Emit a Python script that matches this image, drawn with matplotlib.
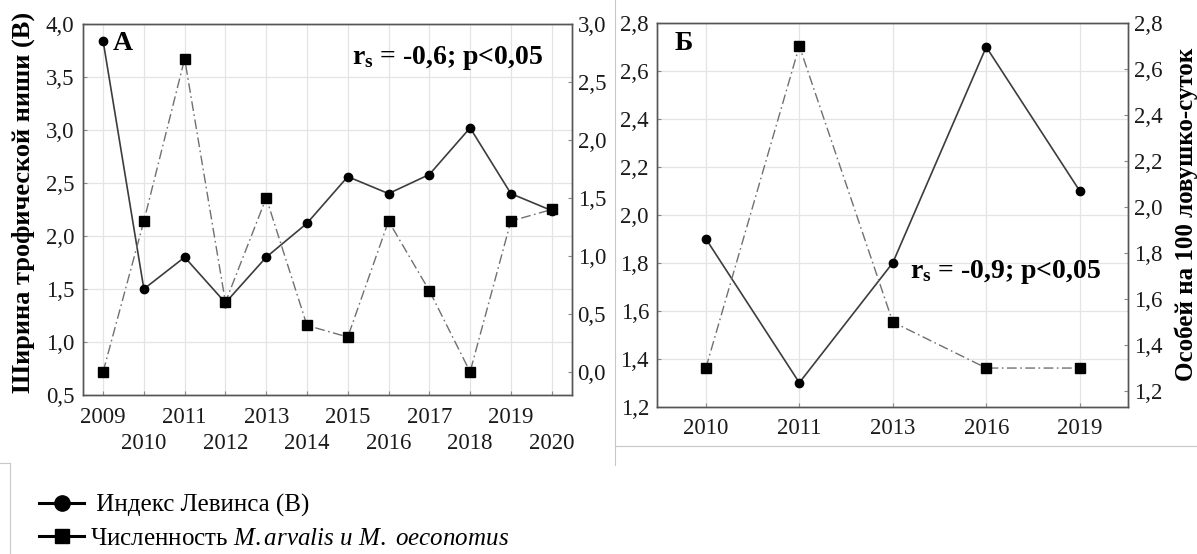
import matplotlib.pyplot as plt
from matplotlib.lines import Line2D

plt.rcParams['font.family'] = ['Liberation Serif', 'DejaVu Serif']
plt.rcParams['mathtext.fontset'] = 'custom'
plt.rcParams['mathtext.rm'] = 'Liberation Serif'
plt.rcParams['mathtext.it'] = 'Liberation Serif:italic'
plt.rcParams['mathtext.bf'] = 'Liberation Serif:bold'

# Панель А: 2009-2020
years_a = [2009, 2010, 2011, 2012, 2013, 2014, 2015, 2016, 2017, 2018, 2019, 2020]
levins_a = [3.84, 1.50, 1.80, 1.37, 1.80, 2.12, 2.56, 2.40, 2.58, 3.02, 2.40, 2.24]
abund_a = [0.0, 1.3, 2.7, 0.6, 1.5, 0.4, 0.3, 1.3, 0.7, 0.0, 1.3, 1.4]
yticks_a_left = [0.5, 1.0, 1.5, 2.0, 2.5, 3.0, 3.5, 4.0]
yticks_a_right = [0.0, 0.5, 1.0, 1.5, 2.0, 2.5, 3.0]

# Панель Б
years_b = ['2010', '2011', '2013', '2016', '2019']
levins_b = [1.9, 1.3, 1.8, 2.7, 2.1]
abund_b = [1.3, 2.7, 1.5, 1.3, 1.3]
yticks_b = [1.2, 1.4, 1.6, 1.8, 2.0, 2.2, 2.4, 2.6, 2.8]

line_kw = dict(color='#3c3c3c', lw=1.2, marker='o', ms=6, mfc='black', mec='black')
dash_kw = dict(color='#707070', lw=1.0, ls=(0, (7, 2.5, 1.2, 2.5)), marker='s', ms=7.5,
               mfc='black', mec='black')
grid_c = '#e4e4e4'
spine_c = '#555555'


def fmt(v):
    return f'{v:.1f}'.replace('.', ',')


def style(ax):
    for s in ax.spines.values():
        s.set_color(spine_c)
        s.set_linewidth(1.0)
    ax.tick_params(which='both', direction='in', length=3, width=0.8, color='#888888',
                   labelsize=16.5, labelcolor='#1a1a1a')
    ax.tick_params(axis='y', pad=6)
    ax.tick_params(axis='x', which='major', pad=8.7)


fig = plt.figure(figsize=(11.97, 5.54), dpi=100)

# ---- Панель А ----
odd_years = [y for y in years_a if y % 2]
even_years = [y for y in years_a if y % 2 == 0]

ax1 = fig.add_axes([0.0691, 0.2870, 0.4088, 0.6697])
ax1.plot(years_a, levins_a, zorder=3, **line_kw)
ax1.set_xlim(2008.5, 2020.5)
ax1.set_ylim(0.5, 4.0)
ax1.set_yticks(yticks_a_left)
ax1.set_yticklabels([fmt(v) for v in yticks_a_left])
ax1.set_xticks(odd_years)
ax1.set_xticklabels([str(y) for y in odd_years])
ax1.set_xticks(even_years, minor=True)
ax1.set_xticklabels([str(y) for y in even_years], minor=True)
ax1.grid(True, which='both', color=grid_c, lw=0.9)
ax1.set_axisbelow(True)
style(ax1)
ax1.tick_params(axis='x', which='minor', pad=27.4)
ax1.set_ylabel('Ширина трофической ниши (В)', fontsize=19, fontweight='bold')
ax1.yaxis.set_label_coords(-0.098, 0.52)

ax1r = ax1.twinx()
ax1r.plot(years_a, abund_a, zorder=3, **dash_kw)
ax1r.set_ylim(-0.2, 3.0)
ax1r.set_yticks(yticks_a_right)
ax1r.set_yticklabels([fmt(v) for v in yticks_a_right])
style(ax1r)
ax1r.tick_params(axis='y', pad=4)

ax1.text(0.062, 0.930, 'А', transform=ax1.transAxes, fontsize=20, fontweight='bold', va='baseline')
ax1r.text(0.55, 0.892, r'$\mathbf{r_s}$ = -0,6; p<0,05', transform=ax1.transAxes,
          fontsize=20, fontweight='bold', va='baseline')

# ---- Панель Б ----
xb = list(range(len(years_b)))
ax2 = fig.add_axes([0.5491, 0.2659, 0.3935, 0.6926])
ax2.plot(xb, levins_b, zorder=3, **line_kw)
ax2.set_xlim(-0.52, 4.52)
ax2.set_ylim(1.2, 2.8)
ax2.set_yticks(yticks_b)
ax2.set_yticklabels([fmt(v) for v in yticks_b])
ax2.set_xticks(xb)
ax2.set_xticklabels(years_b)
ax2.grid(True, color=grid_c, lw=0.9)
ax2.set_axisbelow(True)
style(ax2)
ax2.tick_params(axis='x', pad=8.5)

ax2r = ax2.twinx()
ax2r.plot(xb, abund_b, zorder=3, **dash_kw)
ax2r.set_ylim(1.132, 2.8)
ax2r.set_yticks(yticks_b)
ax2r.set_yticklabels([fmt(v) for v in yticks_b])
style(ax2r)
ax2r.tick_params(axis='y', pad=4)
ax2r.set_ylabel('Особей на 100 ловушко-суток', fontsize=18, fontweight='bold')
ax2r.yaxis.set_label_coords(1.098, 0.5)

ax2.text(0.037, 0.930, 'Б', transform=ax2.transAxes, fontsize=20, fontweight='bold', va='baseline')
ax2r.text(0.537, 0.335, r'$\mathbf{r_s}$ = -0,9; p<0,05', transform=ax2.transAxes,
          fontsize=20, fontweight='bold', va='baseline')

# рамки-разделители
fig.add_artist(Line2D([615 / 1197, 615 / 1197], [1.0, 1 - 465 / 554], color='#c8c8c8', lw=0.8))
fig.add_artist(Line2D([615 / 1197, 1.0], [1 - 446 / 554, 1 - 446 / 554], color='#c8c8c8', lw=0.8))
fig.add_artist(Line2D([0, 10 / 1197], [1 - 463 / 554, 1 - 463 / 554], color='#c8c8c8', lw=0.8))
fig.add_artist(Line2D([10 / 1197, 10 / 1197], [1 - 463 / 554, 0], color='#c8c8c8', lw=0.8))

# легенда
h1 = Line2D([], [], color='black', lw=2.2, marker='o', ms=11)
h2 = Line2D([], [], color='black', lw=2.2, marker='s', ms=10)
label2 = r'Численность $\mathit{M{.}arvalis}$ $\mathit{и}$ $\mathit{M{.}}$ $\mathit{oeconomus}$'
fig.legend([h1, h2], [' Индекс Левинса (В)', label2],
           loc='upper left', bbox_to_anchor=(39 / 1197, 1 - 494 / 554), frameon=False,
           fontsize=18, handlelength=1.8, handletextpad=0.25, labelspacing=0.42,
           borderpad=0, borderaxespad=0)

fig.savefig('out.png', dpi=100)
